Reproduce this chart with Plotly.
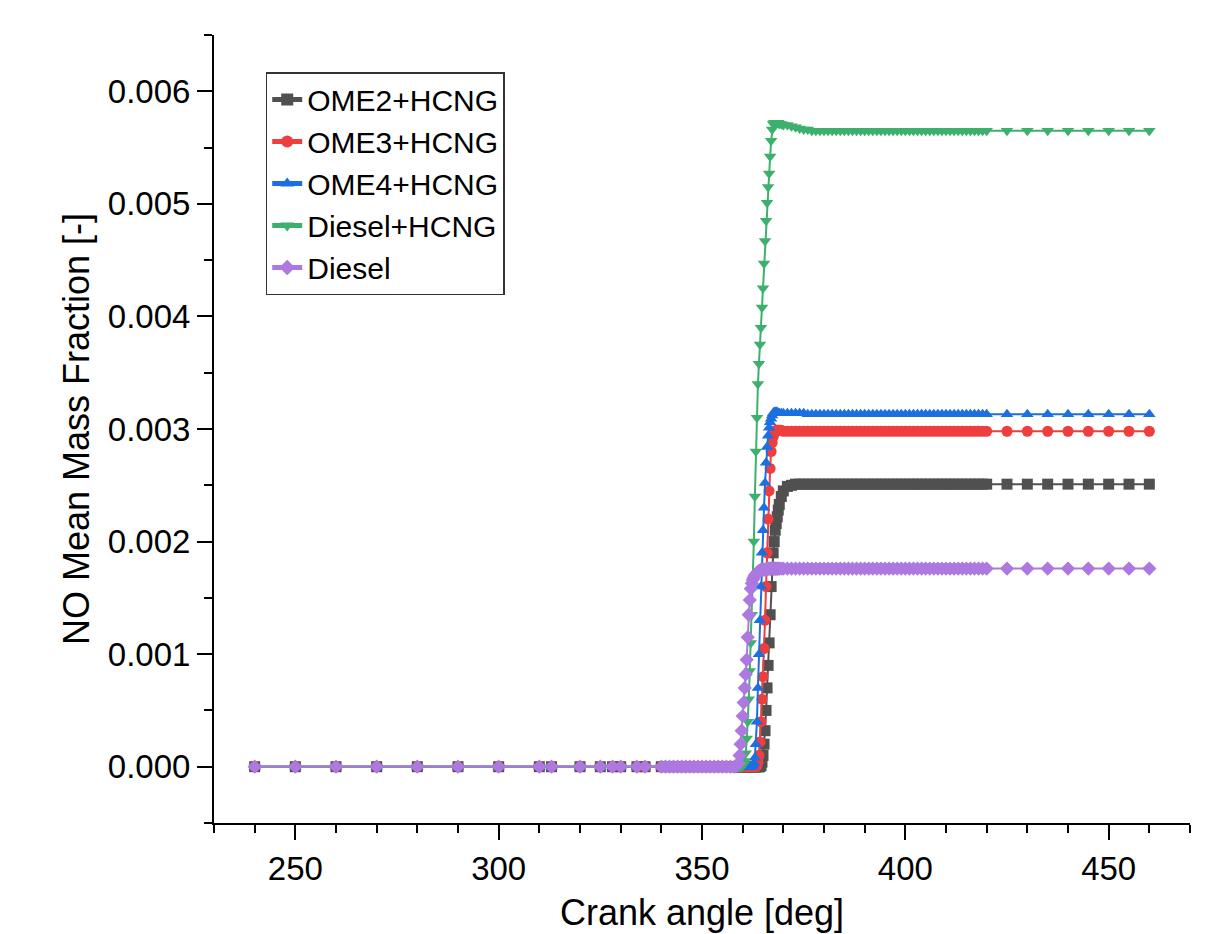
import plotly.graph_objects as go

# Crank angle grid [deg]
crank_angle = (
    [240, 250, 260, 270, 280, 290, 300, 310, 313, 320, 325, 328, 330, 334, 336]
    + [340, 341, 342, 343, 344, 345, 346, 347, 348, 349, 350, 351, 352, 353, 354, 355, 356, 357, 358]
    + [358.5]
    + [359, 359.25, 359.5, 359.75, 360, 360.25, 360.5, 360.75, 361, 361.25, 361.5, 361.75,
       362, 362.25, 362.5, 362.75, 363, 363.25, 363.5, 363.75, 364, 364.25, 364.5, 364.75,
       365, 365.25, 365.5, 365.75, 366, 366.25, 366.5, 366.75, 367, 367.25, 367.5, 367.75,
       368, 368.25, 368.5, 368.75, 369]
    + [369.5]
    + [370, 371, 372, 373, 374, 375, 376, 377, 378, 379, 380, 381, 382, 383, 384, 385, 386,
       387, 388, 389, 390, 391, 392, 393, 394, 395, 396, 397, 398, 399, 400, 401, 402, 403,
       404, 405, 406, 407, 408, 409, 410, 411, 412, 413, 414, 415, 416, 417, 418, 419, 420]
    + [425, 430, 435, 440, 445, 450, 455, 460]
)

ome2_hcng = (
    [0, 0, 0, 0, 0, 0, 0, 0, 0, 0, 0, 0, 0, 0, 0]
    + [0, 0, 0, 0, 0, 0, 0, 0, 0, 0, 0, 0, 0, 0, 0, 0, 0, 0, 0]
    + [0]
    + [0, 0, 0, 0, 0, 0, 0, 0, 0, 0, 0, 0,
       0, 0, 0, 0, 0, 0, 0, 0, 0, 0, 0.00001, 0.00004,
       0.0001, 0.0002, 0.00032, 0.0005, 0.0007, 0.0009, 0.0011, 0.00135, 0.0016, 0.00175, 0.0019, 0.002,
       0.0021, 0.00216, 0.00222, 0.00228, 0.00233]
    + [0.0024]
    + [0.00245, 0.00249, 0.0025, 0.00251, 0.00251, 0.00251, 0.00251, 0.00251, 0.00251, 0.00251,
       0.00251, 0.00251, 0.00251, 0.00251, 0.00251, 0.00251, 0.00251, 0.00251, 0.00251, 0.00251,
       0.00251, 0.00251, 0.00251, 0.00251, 0.00251, 0.00251, 0.00251, 0.00251, 0.00251, 0.00251,
       0.00251, 0.00251, 0.00251, 0.00251, 0.00251, 0.00251, 0.00251, 0.00251, 0.00251, 0.00251,
       0.00251, 0.00251, 0.00251, 0.00251, 0.00251, 0.00251, 0.00251, 0.00251, 0.00251, 0.00251,
       0.00251]
    + [0.00251, 0.00251, 0.00251, 0.00251, 0.00251, 0.00251, 0.00251, 0.00251]
)

ome3_hcng = (
    [0, 0, 0, 0, 0, 0, 0, 0, 0, 0, 0, 0, 0, 0, 0]
    + [0, 0, 0, 0, 0, 0, 0, 0, 0, 0, 0, 0, 0, 0, 0, 0, 0, 0, 0]
    + [0]
    + [0, 0, 0, 0, 0, 0, 0, 0, 0, 0, 0, 0,
       0, 0, 0, 0, 0, 0, 0.00001, 0.00004, 0.0001, 0.00022, 0.0004, 0.0006,
       0.0008, 0.00105, 0.0013, 0.0016, 0.0019, 0.0022, 0.00245, 0.00265, 0.0028, 0.00288, 0.00293, 0.00296,
       0.00298, 0.00299, 0.00299, 0.00299, 0.00299]
    + [0.00299]
    + [0.00298, 0.00298, 0.00298, 0.00298, 0.00298, 0.00298, 0.00298, 0.00298, 0.00298, 0.00298,
       0.00298, 0.00298, 0.00298, 0.00298, 0.00298, 0.00298, 0.00298, 0.00298, 0.00298, 0.00298,
       0.00298, 0.00298, 0.00298, 0.00298, 0.00298, 0.00298, 0.00298, 0.00298, 0.00298, 0.00298,
       0.00298, 0.00298, 0.00298, 0.00298, 0.00298, 0.00298, 0.00298, 0.00298, 0.00298, 0.00298,
       0.00298, 0.00298, 0.00298, 0.00298, 0.00298, 0.00298, 0.00298, 0.00298, 0.00298, 0.00298,
       0.00298]
    + [0.00298, 0.00298, 0.00298, 0.00298, 0.00298, 0.00298, 0.00298, 0.00298]
)

ome4_hcng = (
    [0, 0, 0, 0, 0, 0, 0, 0, 0, 0, 0, 0, 0, 0, 0]
    + [0, 0, 0, 0, 0, 0, 0, 0, 0, 0, 0, 0, 0, 0, 0, 0, 0, 0, 0]
    + [0]
    + [0, 0, 0, 0, 0, 0, 0, 0, 0, 0, 0, 0,
       0, 0, 0.00001, 0.00003, 0.00008, 0.0002, 0.0004, 0.0007, 0.001, 0.0013, 0.0016, 0.0019,
       0.0021, 0.0023, 0.00252, 0.0027, 0.00284, 0.00294, 0.00301, 0.00306, 0.00309, 0.00312, 0.00314, 0.00315,
       0.00315, 0.00315, 0.00315, 0.00314, 0.00314]
    + [0.00314]
    + [0.00314, 0.00314, 0.00314, 0.00314, 0.00314, 0.00314, 0.00313, 0.00313, 0.00313, 0.00313,
       0.00313, 0.00313, 0.00313, 0.00313, 0.00313, 0.00313, 0.00313, 0.00313, 0.00313, 0.00313,
       0.00313, 0.00313, 0.00313, 0.00313, 0.00313, 0.00313, 0.00313, 0.00313, 0.00313, 0.00313,
       0.00313, 0.00313, 0.00313, 0.00313, 0.00313, 0.00313, 0.00313, 0.00313, 0.00313, 0.00313,
       0.00313, 0.00313, 0.00313, 0.00313, 0.00313, 0.00313, 0.00313, 0.00313, 0.00313, 0.00313,
       0.00313]
    + [0.00313, 0.00313, 0.00313, 0.00313, 0.00313, 0.00313, 0.00313, 0.00313]
)

diesel_hcng = (
    [0, 0, 0, 0, 0, 0, 0, 0, 0, 0, 0, 0, 0, 0, 0]
    + [0, 0, 0, 0, 0, 0, 0, 0, 0, 0, 0, 0, 0, 0, 0, 0, 0, 0, 0]
    + [0]
    + [0, 0, 0, 0, 0.00001, 0.00002, 0.00005, 0.00012, 0.00025, 0.0004, 0.0006, 0.00085,
       0.0011, 0.00135, 0.0016, 0.002, 0.0024, 0.0028, 0.0031, 0.0034, 0.00358, 0.00375, 0.0039, 0.00408,
       0.00425, 0.00447, 0.00467, 0.00485, 0.00501, 0.00515, 0.00527, 0.00542, 0.00556, 0.00566, 0.00571, 0.00572,
       0.00572, 0.00572, 0.00572, 0.00572, 0.00571]
    + [0.00571]
    + [0.0057, 0.0057, 0.00569, 0.00568, 0.00567, 0.00566, 0.00566, 0.00565, 0.00565, 0.00565,
       0.00565, 0.00565, 0.00565, 0.00565, 0.00565, 0.00565, 0.00565, 0.00565, 0.00565, 0.00565,
       0.00565, 0.00565, 0.00565, 0.00565, 0.00565, 0.00565, 0.00565, 0.00565, 0.00565, 0.00565,
       0.00565, 0.00565, 0.00565, 0.00565, 0.00565, 0.00565, 0.00565, 0.00565, 0.00565, 0.00565,
       0.00565, 0.00565, 0.00565, 0.00565, 0.00565, 0.00565, 0.00565, 0.00565, 0.00565, 0.00565,
       0.00565]
    + [0.00565, 0.00565, 0.00565, 0.00565, 0.00565, 0.00565, 0.00565, 0.00565]
)

diesel = (
    [0, 0, 0, 0, 0, 0, 0, 0, 0, 0, 0, 0, 0, 0, 0]
    + [0, 0, 0, 0, 0, 0, 0, 0, 0, 0, 0, 0, 0, 0, 0, 0, 0, 0, 0]
    + [0.00001]
    + [0.00003, 0.0001, 0.0002, 0.00032, 0.00045, 0.00057, 0.0007, 0.00082, 0.00095, 0.00115, 0.00135, 0.00148,
       0.00158, 0.00163, 0.00166, 0.00168, 0.0017, 0.00171, 0.00172, 0.00173, 0.00174, 0.00174, 0.00175, 0.00175,
       0.00175, 0.00175, 0.00175, 0.00175, 0.00176, 0.00176, 0.00176, 0.00176, 0.00176, 0.00176, 0.00176, 0.00176,
       0.00176, 0.00176, 0.00176, 0.00176, 0.00176]
    + [0.00176]
    + [0.00176, 0.00176, 0.00176, 0.00176, 0.00176, 0.00176, 0.00176, 0.00176, 0.00176, 0.00176,
       0.00176, 0.00176, 0.00176, 0.00176, 0.00176, 0.00176, 0.00176, 0.00176, 0.00176, 0.00176,
       0.00176, 0.00176, 0.00176, 0.00176, 0.00176, 0.00176, 0.00176, 0.00176, 0.00176, 0.00176,
       0.00176, 0.00176, 0.00176, 0.00176, 0.00176, 0.00176, 0.00176, 0.00176, 0.00176, 0.00176,
       0.00176, 0.00176, 0.00176, 0.00176, 0.00176, 0.00176, 0.00176, 0.00176, 0.00176, 0.00176,
       0.00176]
    + [0.00176, 0.00176, 0.00176, 0.00176, 0.00176, 0.00176, 0.00176, 0.00176]
)

series_names = ["OME2+HCNG", "OME3+HCNG", "OME4+HCNG", "Diesel+HCNG", "Diesel"]
series_values = [ome2_hcng, ome3_hcng, ome4_hcng, diesel_hcng, diesel]
series_colors = ["#505050", "#ef3e3e", "#1c6fe0", "#3cb06c", "#ad78df"]
series_symbols = ["square", "circle", "triangle-up", "triangle-down", "diamond"]

FONT = "Liberation Sans"

fig = go.Figure()
for name, vals, col, sym in zip(series_names, series_values, series_colors, series_symbols):
    fig.add_trace(go.Scatter(
        x=crank_angle, y=vals, name=name, mode="lines+markers",
        line=dict(color=col, width=2),
        marker=dict(symbol=sym, size=11, color=col, line=dict(width=0)),
    ))

axis_common = dict(
    showline=True, linecolor="black", linewidth=2,
    ticks="outside", ticklen=15, tickwidth=2, tickcolor="black",
    showgrid=False, zeroline=False, mirror=False, automargin=False,
    tickfont=dict(family=FONT, size=33, color="black"),
)

fig.update_layout(
    width=1216, height=934,
    margin=dict(l=214, r=26, t=35, b=111),
    paper_bgcolor="white", plot_bgcolor="white",
    font=dict(family=FONT, color="black"),
    showlegend=True,
    legend=dict(
        x=0.053, y=0.953, xanchor="left", yanchor="top",
        bgcolor="white", bordercolor="#333333", borderwidth=1.5,
        font=dict(family=FONT, size=30, color="black"),
        itemsizing="constant",
    ),
    xaxis=dict(
        range=[230, 470], dtick=50, tick0=0,
        minor=dict(dtick=10, ticks="outside", ticklen=8, tickwidth=2, tickcolor="black"),
        title=dict(text="Crank angle [deg]", font=dict(family=FONT, size=36, color="black"), standoff=14),
        **axis_common,
    ),
    yaxis=dict(
        range=[-0.0005, 0.0065], dtick=0.001, tick0=0, tickformat=".3f",
        minor=dict(dtick=0.0005, ticks="outside", ticklen=8, tickwidth=2, tickcolor="black"),
        title=dict(text="NO Mean Mass Fraction [-]", font=dict(family=FONT, size=36, color="black"), standoff=7),
        **axis_common,
    ),
)

fig.write_html("out.html")
